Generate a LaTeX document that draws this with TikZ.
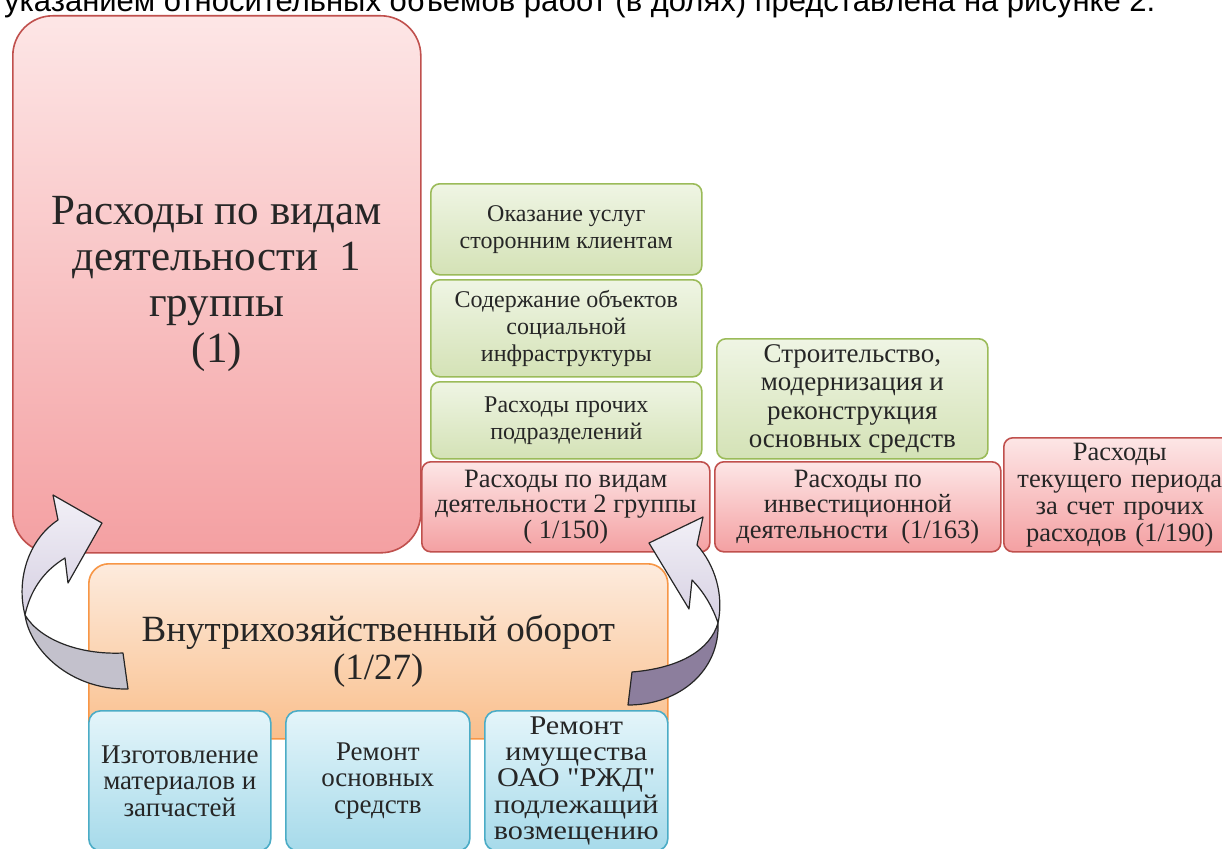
\documentclass[tikz,border=0pt]{standalone}
\usepackage{fontspec}
\setmainfont{Liberation Serif}
\newfontfamily\capfont{Liberation Sans}
\newfontfamily\wideserif[FakeStretch=1.12]{Liberation Serif}
\definecolor{pinkT}{HTML}{FDE6E6}
\definecolor{pinkB}{HTML}{F4A0A2}
\definecolor{pinkD}{HTML}{C0504D}
\definecolor{greenT}{HTML}{EFF5E4}
\definecolor{greenB}{HTML}{D4E2B6}
\definecolor{greenD}{HTML}{9BBB59}
\definecolor{orT}{HTML}{FDEBDD}
\definecolor{orB}{HTML}{F9BF8C}
\definecolor{orD}{HTML}{F79646}
\definecolor{blT}{HTML}{E4F5FA}
\definecolor{blB}{HTML}{A6DAEA}
\definecolor{blD}{HTML}{4BACC6}
\definecolor{arLight}{HTML}{F2F0F7}
\definecolor{arMid}{HTML}{D6D0E2}
\definecolor{arGray}{HTML}{C3C1CC}
\definecolor{arDark}{HTML}{8C7E9D}
\tikzset{
  box/.style={draw, line width=1.6pt, inner sep=1pt, align=center, anchor=north west, text=black!85},
  pinkbox/.style={box, draw=pinkD, top color=pinkT, bottom color=pinkB, rounded corners=9pt},
  greenbox/.style={box, draw=greenD, top color=greenT, bottom color=greenB, rounded corners=9pt},
  orbox/.style={box, draw=orD, top color=orT, bottom color=orB, rounded corners=20pt},
  bluebox/.style={box, draw=blD, top color=blT, bottom color=blB, rounded corners=12pt},
  smalltxt/.style={font=\fontsize{24}{27}\selectfont},
  arrowline/.style={draw=black!85, line width=1.2pt, line join=round}
}
\begin{document}
\begin{tikzpicture}[x=1pt,y=-1pt]
\useasboundingbox (0,0) rectangle (1222,848);
\clip (0,0) rectangle (1222,848);
\fill[white] (0,0) rectangle (1222,848);
% caption (cut at top)
\node[anchor=base west, inner sep=0pt, font=\capfont\fontsize{31}{36}\selectfont] (caption) at (4,12) {указанием относительных объемов работ (в долях) представлена на рисунке 2.};
% big box
\node[pinkbox, rounded corners=40pt, minimum width=408pt, minimum height=537pt, font=\fontsize{43}{46}\selectfont] (big) at (12,15) {Расходы по видам\\деятельности\ \ 1\\группы\\(1)};
% green boxes
\node[greenbox, smalltxt, minimum width=271pt, minimum height=91pt] (g1) at (430,183) {Оказание услуг\\сторонним клиентам};
\node[greenbox, smalltxt, minimum width=271pt, minimum height=97pt] (g2) at (430,279) {Содержание объектов\\социальной\\инфраструктуры};
\node[greenbox, smalltxt, minimum width=271pt, minimum height=77pt] (g3) at (430,381) {Расходы прочих\\подразделений};
\node[greenbox, font=\fontsize{27}{28.5}\selectfont, minimum width=271pt, minimum height=120pt] (g4) at (716,338) {Строительство,\\модернизация и\\реконструкция\\основных средств};
% pink row
\node[pinkbox, font=\fontsize{26.5}{25.5}\selectfont, minimum width=288pt, minimum height=90pt] (p2) at (421,461) {Расходы по видам\\деятельности 2 группы\\( 1/150)};
\node[pinkbox, font=\fontsize{26.5}{25.5}\selectfont, minimum width=286pt, minimum height=90pt] (p3) at (714,461) {Расходы по\\инвестиционной\\деятельности\ \ (1/163)};
\node[pinkbox, font=\fontsize{26.5}{27}\selectfont, minimum width=232pt, minimum height=114pt, text width=220pt] (p4) at (1003,437) {Расходы\\текущего периода\\за счет прочих\\расходов (1/190)};
% orange box
\node[orbox, font=\fontsize{37}{38}\selectfont, minimum width=579pt, minimum height=175pt] (orange) at (88,563) {Внутрихозяйственный оборот\\(1/27)};
% blue boxes
\node[bluebox, font=\fontsize{27}{26.5}\selectfont, minimum width=182pt, minimum height=140pt] (b1) at (88,710) {Изготовление\\материалов и\\запчастей};
\node[bluebox, font=\fontsize{27}{26.5}\selectfont, minimum width=184pt, minimum height=140pt] (b2) at (285,710) {Ремонт\\основных\\средств};
\node[bluebox, font=\wideserif\fontsize{27}{26.3}\selectfont, minimum width=183pt, minimum height=140pt] (b3) at (484,710) {Ремонт\\имущества\\ОАО \char34РЖД\char34\\подлежащий\\возмещению};
% left curved arrow: lower (gray) part
\path[arrowline, fill=arGray]
  (25,615) .. controls (30,650) and (70,690) .. (128,689)
  -- (123,653) .. controls (80,655) and (40,640) .. cycle;
% left arrow upper part with head
\path[arrowline, top color=arLight, bottom color=arMid]
  (25,615) .. controls (16,580) and (28,540) .. (58,520)
  -- (53,495) -- (102,523) -- (68,583) -- (65,558)
  .. controls (42,572) and (30,592) .. cycle;
% right curved arrow: lower (dark) part
\path[arrowline, fill=arDark]
  (718,623) .. controls (720,670) and (680,705) .. (628,705)
  -- (632,672) .. controls (680,668) and (710,650) .. cycle;
% right arrow upper part with head
\path[arrowline, top color=arLight, bottom color=arMid]
  (718,623) .. controls (724,595) and (715,565) .. (697,545)
  -- (703,517) -- (649,543) -- (689,609) -- (692,580)
  .. controls (702,590) and (712,605) .. cycle;
\end{tikzpicture}
\end{document}
